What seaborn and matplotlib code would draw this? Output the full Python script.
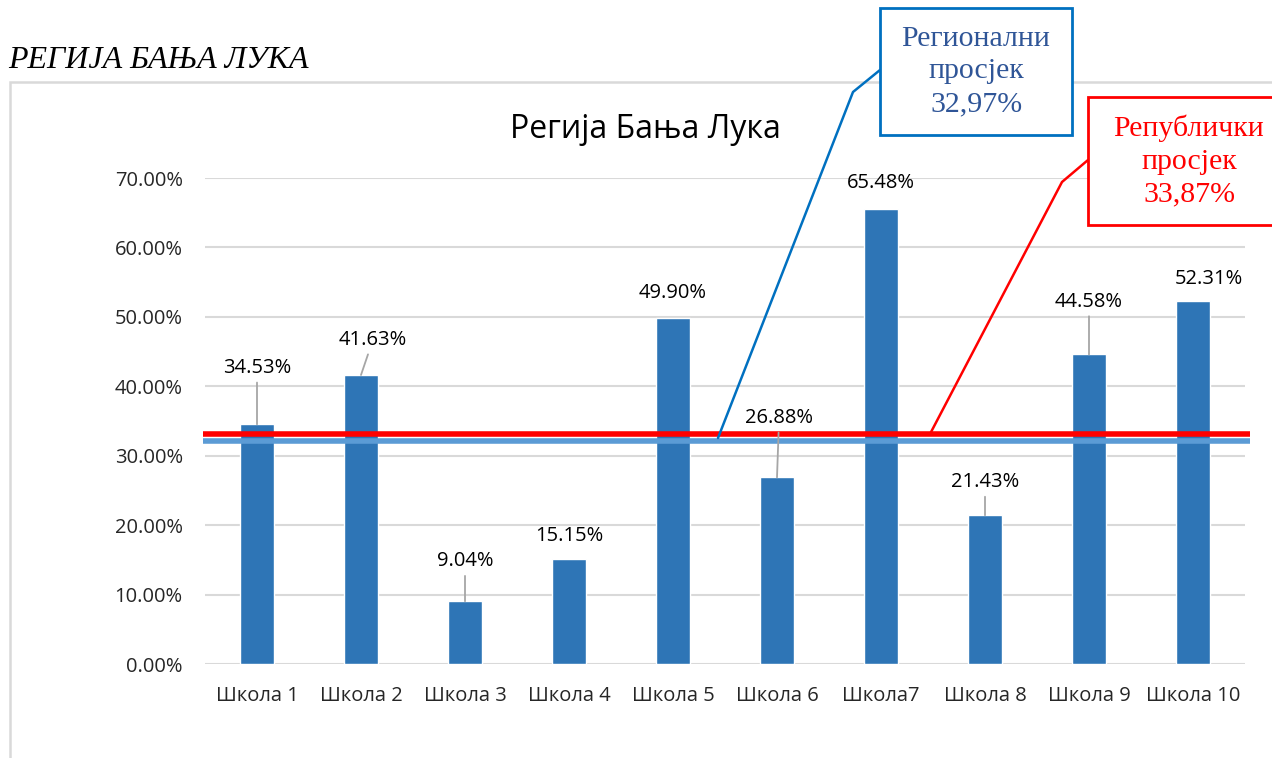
import matplotlib
matplotlib.use("Agg")
import matplotlib.pyplot as plt
import seaborn as sns
from matplotlib.patches import Rectangle
from matplotlib.ticker import FuncFormatter

# data
schools = ["Школа 1", "Школа 2", "Школа 3", "Школа 4", "Школа 5",
           "Школа 6", "Школа7", "Школа 8", "Школа 9", "Школа 10"]
shares = [0.3453, 0.4163, 0.0904, 0.1515, 0.4990,
          0.2688, 0.6548, 0.2143, 0.4458, 0.5231]
regional_avg = 0.3297
republic_avg = 0.3387
regional_label = "Регионални\nпросјек\n32,97%"
republic_label = "Републички\nпросјек\n33,87%"

# label placement (data units) and whether a leader line is drawn
label_pos = [(0.0, 0.4265), (0.115, 0.467), (0.0, 0.148), (0.0, 0.184), (0.0, 0.535),
             (0.02, 0.3545), (0.0, 0.693), (0.0, 0.262), (0.0, 0.522), (0.15, 0.555)]
leader = [True, True, True, False, False, True, False, True, True, False]

sns.set_style("white")
plt.rcParams["font.family"] = ["Open Sans", "DejaVu Sans"]

fig = plt.figure(figsize=(12.72, 7.58), dpi=100)
ax = fig.add_axes([205 / 1272, 1 - 664 / 758, 1040 / 1272, 486 / 758])

sns.barplot(x=schools, y=shares, color="#2E75B6", width=0.32, saturation=1, ax=ax, zorder=3)

ax.set_ylim(0, 0.7)
ax.set_xlim(-0.5, len(schools) - 0.5)
ax.set_yticks([i / 10 for i in range(8)])
ax.yaxis.set_major_formatter(FuncFormatter(lambda v, _: f"{v * 100:.2f}%"))
ax.grid(axis="y", color="#D9D9D9", linewidth=1.5, zorder=0)
ax.set_axisbelow(True)
sns.despine(ax=ax, left=True, bottom=True, top=True, right=True)
ax.tick_params(axis="x", length=0, pad=16, labelsize=14.5)
ax.tick_params(axis="y", length=0, pad=16, labelsize=14.5)
ax.set_xlabel("")
ax.set_ylabel("")

# average lines (slightly past the plot area on the right)
ax.plot([-0.52, 9.55], [regional_avg - 0.009, regional_avg - 0.009], color="#5B9BD5",
        linewidth=4, zorder=4, clip_on=False, solid_capstyle="butt")
ax.plot([-0.52, 9.55], [republic_avg - 0.008, republic_avg - 0.008], color="#FF0000",
        linewidth=4, zorder=5, clip_on=False, solid_capstyle="butt")

# data labels
for i, (v, (dx, ly), ld) in enumerate(zip(shares, label_pos, leader)):
    props = dict(arrowstyle="-", color="#A6A6A6", lw=1.3, shrinkA=1, shrinkB=0) if ld else None
    ax.annotate(f"{v * 100:.2f}%", xy=(i, v), xytext=(i + dx, ly), ha="center", va="center",
                fontsize=14.5, color="#000000", arrowprops=props, zorder=6,
                annotation_clip=False)

# chart border
fig.patches.append(Rectangle((10 / 1272, -0.1), 1.2, 1 - 82 / 758 + 0.1,
                             transform=fig.transFigure, fill=False,
                             edgecolor="#D9D9D9", linewidth=1.8, zorder=0))

fig.text(645 / 1272, 1 - 130 / 758, "Регија Бања Лука", ha="center", va="center",
         fontsize=23, color="#000000")
fig.text(8 / 1272, 1 - 60 / 758, "РЕГИЈА БАЊА ЛУКА", ha="left", va="center",
         fontsize=23, style="italic", family="Liberation Serif", color="#000000")

# callouts
def callout(x0, y0, x1, y1, text, edge, tcol, pts):
    fig.patches.append(Rectangle((x0 / 1272, 1 - y1 / 758), (x1 - x0) / 1272, (y1 - y0) / 758,
                                 transform=fig.transFigure, facecolor="white",
                                 edgecolor=edge, linewidth=2, zorder=10))
    fig.text((x0 + x1) / 2 / 1272, 1 - (y0 + y1) / 2 / 758, text, ha="center", va="center",
             fontsize=21.5, family="Liberation Serif", color=tcol, linespacing=1.32, zorder=11)
    xs = [p[0] / 1272 for p in pts]
    ys = [1 - p[1] / 758 for p in pts]
    fig.add_artist(plt.Line2D(xs, ys, transform=fig.transFigure, color=edge, linewidth=1.8,
                              zorder=9))

callout(880, 8, 1072, 135, regional_label, "#0070C0", "#2F5597",
        [(880, 70), (853, 92), (718, 438)])
callout(1088, 97, 1290, 225, republic_label, "#FF0000", "#FF0000",
        [(1088, 160), (1062, 182), (930, 434)])

fig.savefig("out.png", dpi=100)
